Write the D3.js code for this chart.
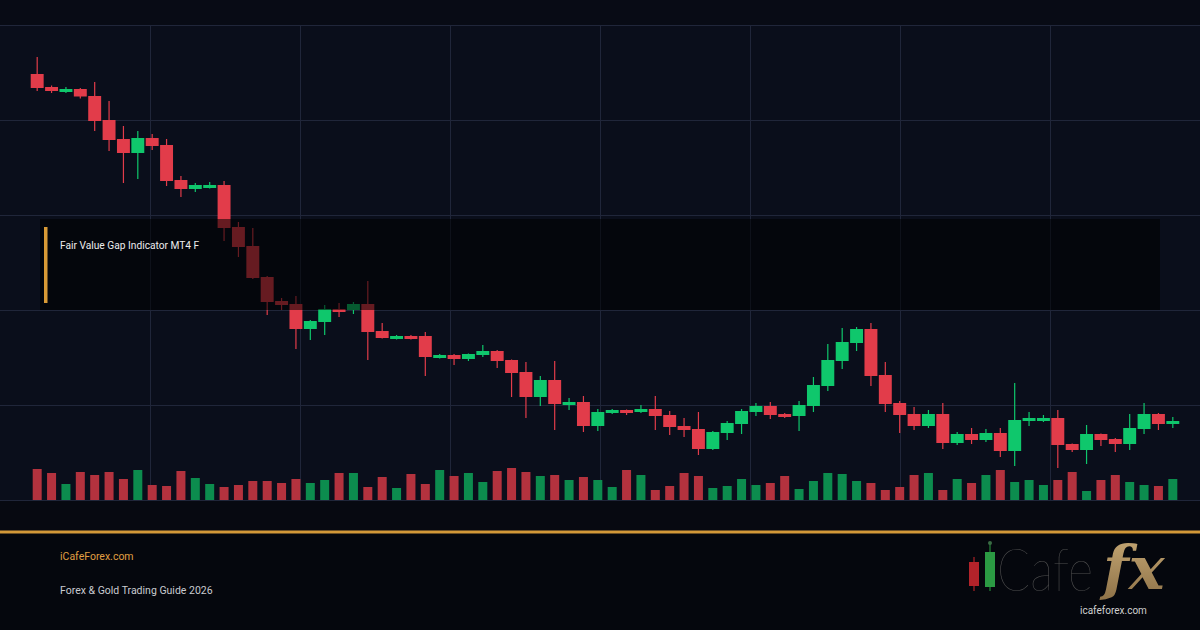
<!DOCTYPE html>
<html>
<head>
<meta charset="utf-8">
<script src="https://cdn.jsdelivr.net/npm/d3@7/dist/d3.min.js"></script>
<style>
body { margin: 0; background: #05070d; }
svg { display: block; }
</style>
</head>
<body>
<svg class="chart" width="1200" height="630"></svg>
<script>
// candle data (price units)
const opens  = [426,413,408,411,404,380,361,347,362,355,320,311,312,315,273,254,223,199,196,171,
                178,191,190,196,169,161,164,164,142,145,141,145,149,140,128,103,120,95,98,74,
                87,90,88,91,85,74,71,51,67,76,88,94,86,84,94,114,139,157,171,125,
                97,86,74,86,57,66,60,67,49,79,79,82,56,50,66,61,56,71,86,76];
const highs  = [443,414.5,413,412,418,399,374,369,366,361,324,317,318,319,278,272,224,202,204,180,
                195,197,198,219,177,165,165,168,146,146,146.5,155,150,140.5,138,124,139,102,104,91,
                91,90.5,95,104,89,82,88,69,79,91,97,98,87,99,123,156,172,173,177,138,
                99,93,90,97,68,72,71,72,117,88,85,90,56.5,75,66.5,62,86,97,87,83];
const lows   = [409,407,407,401.5,369,349,317,321,350,314,303,308,311.5,259,243,221,185,190,151,160,
                165,183,186,140,161.5,160.5,160.5,124,141.5,135,139,143,132,103,82,94,70,90,68,69,
                86,85,87,70,65,63,45,50,60,66,84,81,82,69,88,109,131,149,114,88,
                67,70,72,51,55,56,58,43,34,74,78,32,48,36,54,48,50,66,70,72];
const closes = [412,409,411,403.5,379,360,347,362,354,319,311,315,315,272,253,222,198,195,171,179,
                191,188,196,168,162,164,161,143,145,141,146,149,139,127,103,120,96,98,74,88,
                90,87,91,84,73,70,51,68,77,89,94,85,83,95,115,140,158,171,124,96,
                85,74,86,57,66,60,67,49,80,82,82,55,50,66,60,56,72,86,76,79];
const volumes = [31,27,16,28,25,28,21,30,15,14,29,22,16,13,15,19,19,17,21,17,
                 20,27,27,13,23,12,26,16,30,24,27,18,29,32,28,24,25,20,23,20,
                 13,30,25,10,14,27,24,12,14,21,15,17,24,11,19,27,26,19,17,10,
                 13,25,27,10,21,17,25,30,18,20,15,20,28,9,20,25,18,15,14,21];
const priceTicks = [0, 95, 190, 285, 380, 475];
const fvgZone = [190, 281];
const fvgLabel = "Fair Value Gap Indicator MT4 F";
const siteLabel = "iCafeForex.com";
const guideLabel = "Forex & Gold Trading Guide 2026";
const logoUrl = "icafeforex.com";

chart = {
    width: 1200,
    top: 25,
    bottom: 500,
    red: "#e23c4a",
    green: "#0fc76c",
    volRed: "#b3323e",
    volGreen: "#0c8c4e",
    // 背景和网格
    drawBackground: function(svg){
        svg.append("rect").attr("width", 1200).attr("height", 630).attr("fill", "#05070d");
        svg.append("rect").attr("width", 1200).attr("height", chart.top).attr("fill", "#080b15");
        svg.append("rect").attr("y", chart.top).attr("width", 1200)
            .attr("height", chart.bottom - chart.top).attr("fill", "#0a0e1b");
        svg.append("rect").attr("y", chart.bottom).attr("width", 1200).attr("height", 31)
            .attr("fill", "#070911");
        let grid = svg.append("g").attr("stroke", "#20263a").attr("stroke-width", 1);
        grid.selectAll(".h").data(priceTicks).enter().append("line")
            .attr("x1", 0).attr("x2", chart.width)
            .attr("y1", d => Math.round(chart.yScale(d)) + 0.5)
            .attr("y2", d => Math.round(chart.yScale(d)) + 0.5);
        grid.selectAll(".v").data(d3.range(1, 8)).enter().append("line")
            .attr("x1", d => d * 150 + 0.5).attr("x2", d => d * 150 + 0.5)
            .attr("y1", chart.top).attr("y2", chart.bottom);
    },
    // 蜡烛图
    drawCandles: function(svg){
        let idx = d3.range(opens.length);
        let x = chart.xScale, y = chart.yScale;
        let gs = svg.append("g").selectAll(".candle").data(idx).enter().append("g")
            .attr("class", "candle");
        gs.append("line")
            .attr("x1", i => x(i) + x.bandwidth() / 2)
            .attr("x2", i => x(i) + x.bandwidth() / 2)
            .attr("y1", i => y(highs[i]))
            .attr("y2", i => y(lows[i]))
            .attr("stroke-width", 1.2)
            .attr("stroke", i => closes[i] >= opens[i] ? chart.green : chart.red);
        gs.append("rect")
            .attr("x", i => x(i) + x.bandwidth() * 0.05)
            .attr("width", x.bandwidth() * 0.9)
            .attr("y", i => y(Math.max(opens[i], closes[i])))
            .attr("height", i => Math.max(2, Math.abs(y(opens[i]) - y(closes[i]))))
            .attr("fill", i => closes[i] >= opens[i] ? chart.green : chart.red);
    },
    // 成交量
    drawVolume: function(svg){
        let x = chart.xScale;
        let vScale = d3.scaleLinear().domain([0, 100]).range([chart.bottom, chart.bottom - 100]);
        svg.append("g").selectAll("rect").data(d3.range(volumes.length)).enter().append("rect")
            .attr("x", i => x(i) + x.bandwidth() * 0.5 - 4.5)
            .attr("width", 9)
            .attr("y", i => vScale(volumes[i]))
            .attr("height", i => chart.bottom - vScale(volumes[i]))
            .attr("fill", i => closes[i] >= opens[i] ? chart.volGreen : chart.volRed);
    },
    // FVG 区域
    drawZone: function(svg){
        let y = chart.yScale;
        svg.append("rect")
            .attr("x", 40).attr("width", 1120)
            .attr("y", y(fvgZone[1])).attr("height", y(fvgZone[0]) - y(fvgZone[1]))
            .attr("fill", "#000").attr("opacity", 0.55);
        svg.append("rect")
            .attr("x", 44).attr("width", 3.5)
            .attr("y", y(fvgZone[1]) + 8).attr("height", y(fvgZone[0]) - y(fvgZone[1]) - 15)
            .attr("fill", "#d99a36");
        svg.append("text")
            .attr("x", 60).attr("y", y(fvgZone[1]) + 30)
            .attr("font-family", "Roboto, sans-serif")
            .attr("font-size", 10.2)
            .attr("fill", "#ececec")
            .text(fvgLabel);
    },
    // 底部信息和 logo
    drawFooter: function(svg){
        svg.append("rect").attr("y", 530.5).attr("width", 1200).attr("height", 3)
            .attr("fill", "#d39838");
        svg.append("text").attr("x", 60).attr("y", 560)
            .attr("font-family", "Roboto, sans-serif").attr("font-size", 10.5)
            .attr("fill", "#e09f42").text(siteLabel);
        svg.append("text").attr("x", 60).attr("y", 594)
            .attr("font-family", "Roboto, sans-serif").attr("font-size", 10.5)
            .attr("fill", "#c9cbd0").text(guideLabel);
        let logo = svg.append("g");
        logo.append("line").attr("x1", 974).attr("x2", 974).attr("y1", 557).attr("y2", 591)
            .attr("stroke", "#8a1c20").attr("stroke-width", 1.5);
        logo.append("rect").attr("x", 969).attr("y", 562).attr("width", 10).attr("height", 24)
            .attr("fill", "#b3232a");
        logo.append("line").attr("x1", 990).attr("x2", 990).attr("y1", 543).attr("y2", 591)
            .attr("stroke", "#1d6b2e").attr("stroke-width", 1.5);
        logo.append("circle").attr("cx", 990).attr("cy", 543).attr("r", 2).attr("fill", "#3a6b44");
        logo.append("rect").attr("x", 985).attr("y", 552).attr("width", 10).attr("height", 35)
            .attr("fill", "#2b9a43");
        // "Cafe" squeezed horizontally to fit between the candles and "fx"
        let cafe = logo.append("text")
            .attr("font-family", "Lato, sans-serif").attr("font-weight", 100)
            .attr("font-size", 60).attr("fill", "#505050").text("Cafe");
        let sx = 96 / cafe.node().getComputedTextLength();
        cafe.attr("transform", "translate(997,591) scale(" + sx + ",1)");
        let grad = svg.append("defs").append("linearGradient").attr("id", "gold")
            .attr("x1", 0).attr("y1", 0).attr("x2", 0).attr("y2", 1);
        grad.append("stop").attr("offset", 0).attr("stop-color", "#c7a976");
        grad.append("stop").attr("offset", 1).attr("stop-color", "#8c7046");
        logo.append("text").attr("x", 1103).attr("y", 589)
            .attr("font-family", "'DejaVu Serif', serif").attr("font-weight", "bold")
            .attr("font-style", "italic").attr("font-size", 60)
            .attr("fill", "url(#gold)").text("fx");
        logo.append("text").attr("x", 1080).attr("y", 614)
            .attr("font-family", "Roboto, sans-serif").attr("font-size", 10)
            .attr("fill", "#d0d0d0").text(logoUrl);
    },
    init: function(){
        let svg = d3.select(".chart");
        chart.xScale = d3.scaleBand().domain(d3.range(opens.length)).range([30, 1180]);
        chart.yScale = d3.scaleLinear().domain([0, 475]).range([chart.bottom, chart.top]);
        chart.drawBackground(svg);
        chart.drawVolume(svg);
        chart.drawCandles(svg);
        chart.drawZone(svg);
        chart.drawFooter(svg);
    }
};
chart.init();
</script>
</body>
</html>
